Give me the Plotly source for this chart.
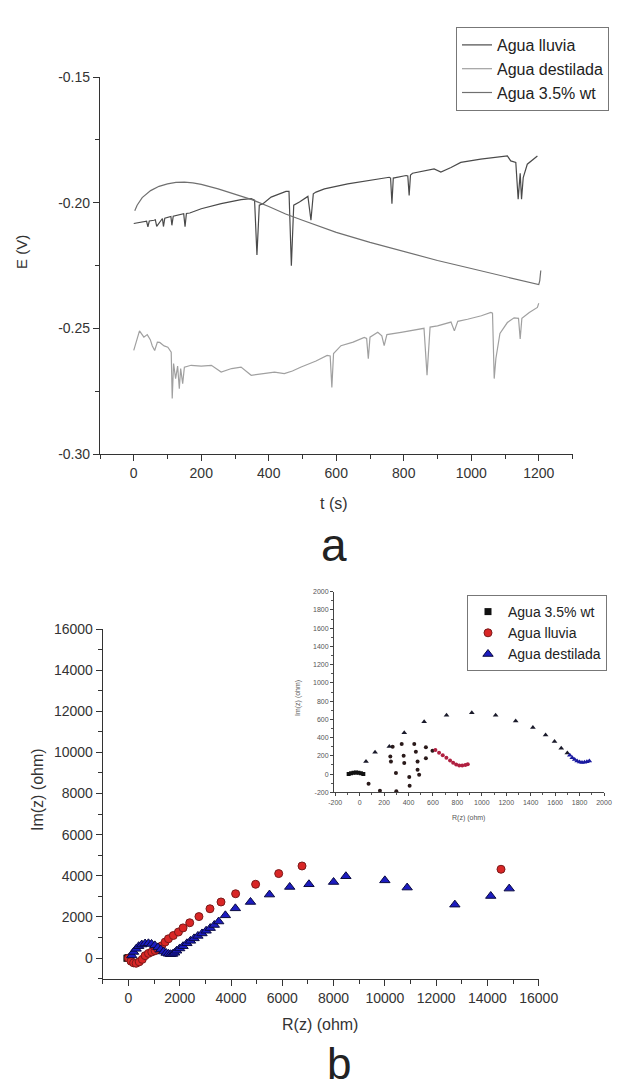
import plotly.graph_objects as go

W, H = 639, 1091
FONT = "Liberation Sans, Arial, sans-serif"

# ---------------- Panel a : E vs t ----------------
t_lluvia = [0, 30, 38, 42, 46, 60, 64, 68, 85, 88, 92, 110, 113, 117, 140, 148, 152, 156,
            166, 200, 259, 318, 348, 358, 365, 372, 383, 407, 451, 460, 467, 474, 491, 516,
            525, 532, 540, 565, 634, 713, 757, 761, 765, 769, 778, 807, 812, 816, 820, 826,
            890, 910, 940, 969, 1028, 1107, 1117, 1132, 1139, 1145, 1149, 1154, 1166, 1196]
E_lluvia = [-0.2083, -0.2076, -0.2074, -0.2096, -0.2073, -0.2070, -0.2068, -0.2094, -0.2063,
            -0.2095, -0.2062, -0.2055, -0.2090, -0.2054, -0.2046, -0.2044, -0.2096, -0.2043,
            -0.2041, -0.2024, -0.2004, -0.1988, -0.1984, -0.1990, -0.2208, -0.2010, -0.2004,
            -0.1978, -0.1955, -0.1955, -0.2251, -0.2010, -0.1997, -0.1975, -0.2070, -0.1965,
            -0.1958, -0.1945, -0.1925, -0.1909, -0.1899, -0.1902, -0.2004, -0.1902, -0.1899,
            -0.1892, -0.1894, -0.1971, -0.1890, -0.1883, -0.1866, -0.1878, -0.1860, -0.1840,
            -0.1827, -0.1814, -0.1834, -0.1840, -0.1986, -0.1883, -0.1986, -0.1900, -0.1847,
            -0.1814]

t_destilada = [0, 10, 17, 30, 40, 49, 55, 62, 70, 77,
               90, 101, 111, 114, 118, 124, 130, 135, 139, 145,
               150, 170, 200, 230, 259, 290, 318, 348, 380, 417,
               446, 470, 496, 512, 540, 573, 582, 587, 592, 614,
               650, 683, 690, 695, 700, 723, 735, 742, 750, 792,
               820, 851, 860, 869, 878, 900, 940, 950, 960, 989,
               1030, 1058, 1063, 1068, 1073, 1085, 1107, 1127, 1140, 1145,
               1150, 1172, 1196, 1200]
E_destilada = [-0.2588, -0.2540, -0.2510, -0.2535, -0.2525, -0.2545, -0.2570, -0.2588, -0.2555, -0.2556,
               -0.2570, -0.2575, -0.2595, -0.2779, -0.2640, -0.2700, -0.2650, -0.2740, -0.2660, -0.2720,
               -0.2655, -0.2647, -0.2650, -0.2647, -0.2674, -0.2660, -0.2654, -0.2687, -0.2680, -0.2674,
               -0.2680, -0.2670, -0.2654, -0.2645, -0.2630, -0.2608, -0.2610, -0.2735, -0.2600, -0.2569,
               -0.2555, -0.2536, -0.2540, -0.2621, -0.2535, -0.2516, -0.2530, -0.2569, -0.2525, -0.2516,
               -0.2510, -0.2503, -0.2500, -0.2687, -0.2495, -0.2490, -0.2475, -0.2510, -0.2472, -0.2464,
               -0.2450, -0.2437, -0.2440, -0.2700, -0.2620, -0.2520, -0.2477, -0.2458, -0.2460, -0.2542,
               -0.2460, -0.2437, -0.2417, -0.2400]

t_salina = [3, 10, 25, 50, 75, 100, 125, 150, 175, 200, 250, 300, 350, 400, 450, 500,
            600, 700, 800, 900, 1000, 1100, 1150, 1200, 1203, 1206]
E_salina = [-0.2032, -0.2010, -0.1980, -0.1952, -0.1935, -0.1925, -0.1919, -0.1918, -0.1921,
            -0.1927, -0.1945, -0.1965, -0.1988, -0.2015, -0.2045, -0.2070, -0.2118, -0.2158,
            -0.2195, -0.2230, -0.2262, -0.2293, -0.2308, -0.2326, -0.2310, -0.2270]

E_tickvals = [-0.30, -0.25, -0.20, -0.15]
E_ticktext = ["-0.30", "-0.25", "-0.20", "-0.15"]

# ---------------- Panel b : Nyquist ----------------
R_salina = [-60, -30, 0, 30, 60]
Im_salina = [0, 10, 15, 10, 0]

R_lluvia = [0, 100, 200, 300, 420, 540, 650, 780, 910, 1040, 1150, 1300, 1430, 1560, 1750,
            1950, 2130, 2390, 2750, 3180, 3610, 4180, 4960, 5860, 6770, 14530]
Im_lluvia = [0, -150, -230, -250, -180, -60, 120, 230, 300, 360, 420, 600, 780, 940, 1100,
             1270, 1470, 1720, 2020, 2400, 2730, 3130, 3590, 4110, 4480, 4320]

R_destilada = [130, 200, 300, 400, 520, 650, 780, 900, 1030, 1150, 1260, 1370, 1470, 1560,
               1640, 1720, 1800, 1880, 2000, 2130, 2280, 2420, 2560, 2710, 2870, 3030, 3190,
               3350, 3520, 3780, 4170, 4760, 5500, 6290, 7040, 8000, 8480, 10000, 10870,
               12730, 14130, 14850]
Im_destilada = [130, 300, 450, 580, 660, 710, 720, 690, 620, 520, 420, 320, 250, 210,
                190, 200, 260, 360, 470, 580, 720, 840, 960, 1080, 1200, 1330, 1460,
                1610, 1780, 2080, 2420, 2730, 3090, 3460, 3590, 3700, 3980, 3780, 3430,
                2600, 3020, 3380]

main_tickvals = [0, 2000, 4000, 6000, 8000, 10000, 12000, 14000, 16000]
main_ticktext = ["0", "2000", "4000", "6000", "8000", "10000", "12000", "14000", "16000"]

# inset
ins_R_salina = [-90, -70, -50, -30, -10, 10, 30]
ins_Im_salina = [0, 8, 14, 16, 14, 8, 0]

ins_R_lluvia_scatter = [73, 166, 300, 409, 406, 487, 297, 474, 365, 256, 474, 542, 251, 360,
                        460, 596, 542, 270, 344, 447]
ins_Im_lluvia_scatter = [-106, -182, -189, -128, -33, -8, 11, 47, 120, 137, 137, 174, 192, 200,
                         246, 257, 294, 300, 330, 330]
ins_R_lluvia_tail = [620, 650, 680, 710, 740, 765, 790, 815, 840, 865, 885]
ins_Im_lluvia_tail = [265, 235, 205, 180, 150, 125, 105, 95, 95, 100, 108]

ins_R_destilada_arc = [52, 126, 243, 365, 528, 711, 918, 1113, 1277, 1418, 1522, 1595, 1650, 1700]
ins_Im_destilada_arc = [137, 239, 301, 453, 573, 646, 672, 646, 581, 512, 428, 356, 283, 230]
ins_R_destilada_tail = [1720, 1740, 1760, 1780, 1800, 1820, 1840, 1860, 1880]
ins_Im_destilada_tail = [205, 180, 160, 142, 132, 128, 130, 135, 142]

ins_tickvals = [-200, 0, 200, 400, 600, 800, 1000, 1200, 1400, 1600, 1800, 2000]
ins_ticktext = ["-200", "0", "200", "400", "600", "800", "1000", "1200", "1400", "1600",
                "1800", "2000"]


def fx(p):
    return p / W


def fy(p):
    return 1 - p / H


fig = go.Figure()

# Panel a traces
fig.add_trace(go.Scatter(x=t_lluvia, y=E_lluvia, mode="lines", name="Agua lluvia",
                         line=dict(color="#4a4a4a", width=1.2), xaxis="x", yaxis="y"))
fig.add_trace(go.Scatter(x=t_destilada, y=E_destilada, mode="lines", name="Agua destilada",
                         line=dict(color="#a0a0a0", width=1.2), xaxis="x", yaxis="y"))
fig.add_trace(go.Scatter(x=t_salina, y=E_salina, mode="lines", name="Agua 3.5% wt",
                         line=dict(color="#707070", width=1.2), xaxis="x", yaxis="y"))

# Panel b main traces
RED = "#d92626"
BLUE = "#1c1cc0"
fig.add_trace(go.Scatter(x=R_salina, y=Im_salina, mode="markers", name="Agua 3.5% wt",
                         marker=dict(symbol="square", size=7, color="#111111"),
                         xaxis="x2", yaxis="y2", legend="legend2"))
fig.add_trace(go.Scatter(x=R_lluvia, y=Im_lluvia, mode="markers", name="Agua lluvia",
                         marker=dict(symbol="circle", size=8, color=RED,
                                     line=dict(color="#7a1a1a", width=1)),
                         xaxis="x2", yaxis="y2", legend="legend2"))
fig.add_trace(go.Scatter(x=R_destilada, y=Im_destilada, mode="markers", name="Agua destilada",
                         marker=dict(symbol="triangle-up", size=9, color=BLUE,
                                     line=dict(color="#0a0a40", width=1)),
                         xaxis="x2", yaxis="y2", legend="legend2"))

# Inset traces
fig.add_trace(go.Scatter(x=ins_R_salina, y=ins_Im_salina, mode="markers", showlegend=False,
                         marker=dict(symbol="square", size=4, color="#111111"),
                         xaxis="x3", yaxis="y3"))
fig.add_trace(go.Scatter(x=ins_R_lluvia_scatter, y=ins_Im_lluvia_scatter, mode="markers",
                         showlegend=False,
                         marker=dict(symbol="circle", size=4, color="#2a1a1a"),
                         xaxis="x3", yaxis="y3"))
fig.add_trace(go.Scatter(x=ins_R_lluvia_tail, y=ins_Im_lluvia_tail, mode="markers",
                         showlegend=False,
                         marker=dict(symbol="circle", size=4, color="#b02040"),
                         xaxis="x3", yaxis="y3"))
fig.add_trace(go.Scatter(x=ins_R_destilada_arc, y=ins_Im_destilada_arc, mode="markers",
                         showlegend=False,
                         marker=dict(symbol="triangle-up", size=5, color="#1a1a2a"),
                         xaxis="x3", yaxis="y3"))
fig.add_trace(go.Scatter(x=ins_R_destilada_tail, y=ins_Im_destilada_tail, mode="markers",
                         showlegend=False,
                         marker=dict(symbol="triangle-up", size=5, color="#1a1aa0"),
                         xaxis="x3", yaxis="y3"))

axis_common = dict(showgrid=False, zeroline=False, showline=True, linecolor="#333",
                   linewidth=1.3, ticks="outside", tickcolor="#333", tickwidth=1.2,
                   ticklen=6, mirror=False)
tickfont = dict(family=FONT, size=14, color="#333")
small_font = dict(family=FONT, size=7, color="#555")
inset_axis = dict(showgrid=False, zeroline=False, showline=True, linecolor="#444",
                  linewidth=1, ticks="outside", tickcolor="#444", ticklen=3,
                  tickvals=ins_tickvals, ticktext=ins_ticktext, tickfont=small_font,
                  minor=dict(dtick=100, tick0=0, ticklen=2, ticks="outside", tickcolor="#555"))

fig.update_layout(
    width=W, height=H, margin=dict(l=0, r=0, t=0, b=0, autoexpand=False),
    paper_bgcolor="white", plot_bgcolor="rgba(0,0,0,0)",
    font=dict(family=FONT, color="#333"),
    xaxis=dict(domain=[fx(100), fx(572.5)], anchor="y", range=[-100, 1300],
               tick0=0, dtick=200, tickfont=tickfont,
               minor=dict(dtick=100, ticklen=4, ticks="outside", tickcolor="#333"),
               **axis_common),
    yaxis=dict(domain=[fy(454), fy(77)], anchor="x", range=[-0.30, -0.15],
               tickvals=E_tickvals, ticktext=E_ticktext, tickfont=tickfont,
               minor=dict(dtick=0.025, tick0=-0.30, ticklen=4, ticks="outside", tickcolor="#333"),
               **axis_common),
    xaxis2=dict(domain=[fx(102.8), fx(538.7)], anchor="y2", range=[-1000, 16000],
                tickvals=main_tickvals, ticktext=main_ticktext, tickfont=tickfont,
                minor=dict(dtick=1000, tick0=0, ticklen=4, ticks="outside", tickcolor="#333"),
                **axis_common),
    yaxis2=dict(domain=[fy(978.7), fy(629)], anchor="x2", range=[-1000, 16000],
                tickvals=main_tickvals, ticktext=main_ticktext, tickfont=tickfont,
                minor=dict(dtick=1000, tick0=0, ticklen=4, ticks="outside", tickcolor="#333"),
                **axis_common),
    xaxis3=dict(domain=[fx(334), fx(604)], anchor="y3", range=[-210, 2000], **inset_axis),
    yaxis3=dict(domain=[fy(792.3), fy(591.7)], anchor="x3", range=[-200, 2000], **inset_axis),
    legend=dict(x=fx(456), y=fy(27), xanchor="left", yanchor="top",
                bgcolor="white", bordercolor="#777", borderwidth=1,
                font=dict(family=FONT, size=16, color="#222"), tracegroupgap=0),
    legend2=dict(x=fx(467), y=fy(595), xanchor="left", yanchor="top",
                 bgcolor="white", bordercolor="#777", borderwidth=1,
                 font=dict(family=FONT, size=14, color="#222"), tracegroupgap=0),
    showlegend=True,
)

annotations = [
    dict(text="E (V)", x=fx(22), y=fy(252), textangle=-90, yanchor="middle",
         font=dict(family=FONT, size=15, color="#333")),
    dict(text="t (s)", x=fx(334), y=fy(503), yanchor="middle",
         font=dict(family=FONT, size=16, color="#333")),
    dict(text="a", x=fx(334), y=fy(545), yanchor="middle",
         font=dict(family=FONT, size=46, color="#222")),
    dict(text="Im(z) (ohm)", x=fx(37), y=fy(790), textangle=-90, yanchor="middle",
         font=dict(family=FONT, size=16, color="#333")),
    dict(text="R(z) (ohm)", x=fx(320), y=fy(1024), yanchor="middle",
         font=dict(family=FONT, size=16, color="#333")),
    dict(text="b", x=fx(339), y=fy(1090), yanchor="bottom",
         font=dict(family=FONT, size=44, color="#222")),
    dict(text="Im(z) (ohm)", x=fx(298), y=fy(698), textangle=-90, yanchor="middle", font=small_font),
    dict(text="R(z) (ohm)", x=fx(468), y=fy(818), yanchor="middle", font=small_font),
]
for a in annotations:
    a.update(xref="paper", yref="paper", showarrow=False, xanchor="center")
fig.update_layout(annotations=annotations)

fig.write_html("out.html")
